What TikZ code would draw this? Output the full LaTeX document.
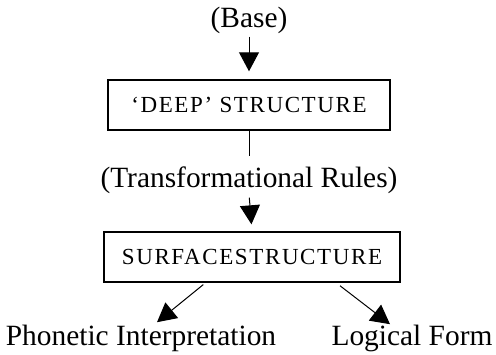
\documentclass[tikz,border=0pt]{standalone}
\usepackage{fontspec}
\setmainfont{Liberation Serif}
\usetikzlibrary{arrows.meta,calc}

\begin{document}
\begin{tikzpicture}[x=0.5pt, y=0.5pt, >={Triangle[width=10pt,length=9.5pt]},
        lbl/.style={inner sep=0pt, anchor=base, font=\fontsize{14.7}{17}\selectfont},
        box/.style={draw, line width=0.7pt, minimum height=25pt, inner sep=0pt,
            font=\fontsize{11.5}{13}\selectfont\addfontfeatures{LetterSpace=7}},
        arr/.style={->, line width=0.5pt}]
                \useasboundingbox (0,0) rectangle (496,354);

                \node[lbl] (base) at (249,326) {(Base)};
                \node[box, minimum width=141pt] (deep) at (249,249) {‘DEEP’ STRUCTURE};
                \node[lbl] (rules) at (249,167) {(Transformational Rules)};
                \node[box, minimum width=148pt] (surface) at (252,97) {SURFACESTRUCTURE};
                \node[lbl] (phon) at (141,9) {Phonetic Interpretation};
                \node[lbl] (logic) at (412,9) {Logical Form};

                \draw[arr, shorten <=1pt, shorten >=4pt] (base.south) -- (deep.north);
                \draw[line width=0.5pt, shorten >=5pt] (deep.south) -- (rules.north);
                \draw[arr, shorten <=2pt, shorten >=3.5pt] (rules.south) -- (surface.north);

                \draw[arr, shorten <=1.5pt] (surface.209.6) -- ($(phon.north)+(16,2)$);
                \draw[arr, shorten <=2.5pt] (surface.-17.8) -- ($(logic.north)+(-22,0)$);
            \end{tikzpicture}
\end{document}
